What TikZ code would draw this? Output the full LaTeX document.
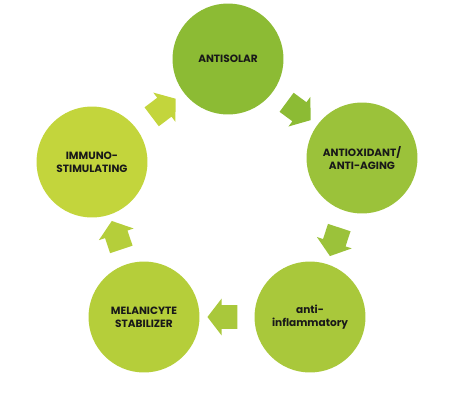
\documentclass[tikz,border=0pt]{standalone}
\usepackage{fontspec}
\setmainfont{Poppins}
\usetikzlibrary{shapes.arrows}
\definecolor{greenA}{HTML}{8CBB34}
\definecolor{greenB}{HTML}{9BC23A}
\definecolor{greenC}{HTML}{A9C83B}
\definecolor{greenD}{HTML}{B5CE3A}
\definecolor{greenE}{HTML}{C3D53C}
\begin{document}
\begin{tikzpicture}[
    x=0.02cm, y=-0.02cm,
    stagecirc/.style={circle, fill=#1, minimum size=2.22cm, inner sep=0pt, align=center,
                      font=\fontsize{6}{7.3}\selectfont\bfseries, text=black!90},
    flowarr/.style={single arrow, fill=#1, minimum height=0.6cm, inner xsep=0pt, inner ysep=0.23cm,
                    single arrow head extend=0.13cm, single arrow tip angle=105}
]
\useasboundingbox (0,0) rectangle (459,399);

\node[stagecirc=greenA] (solar) at (228,59) {ANTISOLAR};
\node[stagecirc=greenB] (oxid) at (362,158) {ANTIOXIDANT/\\ANTI-AGING};
\node[stagecirc=greenC] (inflam) at (310,317) {anti-\\inflammatory};
\node[stagecirc=greenD] (melan) at (144,317) {MELANICYTE\\STABILIZER};
\node[stagecirc=greenE] (immuno) at (92,162) {IMMUNO-\\STIMULATING};

\path (solar) -- (oxid) node[midway, sloped, allow upside down, flowarr=greenA] (a1) {};
\path (oxid) -- (inflam) node[midway, sloped, allow upside down, flowarr=greenB] (a2) {};
\path (inflam) -- (melan) node[midway, sloped, allow upside down, flowarr=greenC] (a3) {};
\path (melan) -- (immuno) node[midway, sloped, allow upside down, flowarr=greenD] (a4) {};
\path (immuno) -- (solar) node[midway, sloped, allow upside down, flowarr=greenE] (a5) {};
\end{tikzpicture}
\end{document}
